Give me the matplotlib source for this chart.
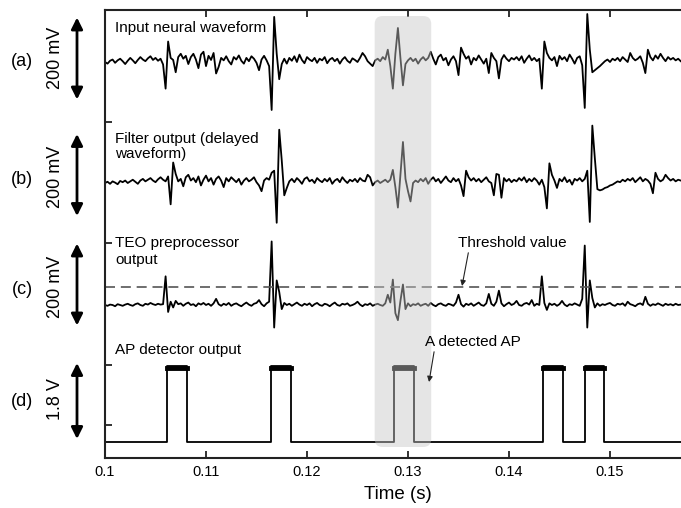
import numpy as np
import matplotlib
matplotlib.use('Agg')
import matplotlib.pyplot as plt
from matplotlib.patches import FancyBboxPatch

plt.rcParams['font.family'] = ['Liberation Sans', 'DejaVu Sans']

# sampling of the recorded traces (s)
t_start = 0.1
dt = 0.00025

# (a) input neural waveform, mV around its baseline
wave_in = [0, -4, 3, 6, -2, 4, 8, 2, -5, 3, 10, 4, -3, 5, 12, 6, 2, 9, 14, 5, 10, 3, 8, -6,
           -65, 50, 10, 5, -25, 12, 20, 8, 15, -5, 12, 20, 6, -15, 18, 25, -10, 15, 5, 22, -28, -12,
           10, 4, 14, 2, -6, 12, 6, 16, 3, -4, 10, 2, 14, 8, -2, -20, 6, 15, 4, -10,
           -117, 110, 20, -42, -5,
           8, -4, 10, 3, 14, 0, 18, 5, -3, 12, 6, 2, 10, -2, 8, 4, 12, -3, 6, 10,
           2, 8, -4, 6, 12, 3, -2, 9, 5, 0, 10, 22, 14, 2, -4, -10, 4, 8, 2, 12, 6,
           30, -10, -65, 20, 83, 10, -57, -5,
           4, 10, 2, 8, -4, 6, 12, 4, 10, 25, 8, -6, 12, 18, 4, 10, -8, 6, 14, 2, -32,
           35, 20, 8, 14, -6, 10, 4, 16, 6, -4, 8, -27, 22, 10, 2, -40, 6, 17, 8, 2,
           10, 6, 12, 4, 14, -2, 8, 16, 4, 10, 2, 8,
           -65, 50,
           22, 10, 4, 12, -10, 15, 6, 12, 2, 18, 8, -4, 10, 14, -8,
           -112, 117, 30, -25,
           -20, -15, -10, -4, 2, 6, 0, 8, 4, 10, 2, 12, 6, 0, 22, 10, 4, 8, 14, -2,
           -27, 30, 12, 4, 16, 8, 20, 10, 2, 12, 6, 10, 4, 8, 2]

# (b) filter output (delayed waveform), mV
wave_filt = [0, 3, -2, 4, 1, -3, 5, 2, 6, 0, 4, 8, 3, -2, 6, 10, 4, 8, 12, 6, 2, 9, 14, 8, 4, 16,
             -52, 50,
             22, 4, 10, -8, 14, 20, 6, 12, 2, 16, -6, 8, 18, 4, 12, -4, 10, 16, 6, -10,
             12, 4, 14, 8, 2, 10, -4, 6, 12, 4, 8, 14, 2, -6, -20, 6, 12, 8, 25, 30,
             -97, 130, 55, -30,
             -12, 4, 10, 2, 12, 6, -2, 10, 14, 4, 8, 0, 12, 6, 2, 10, 4, 12, -2, 6, 10,
             2, 14, 6, 0, 8, 4, 10, 2, 12, 6, 4, 20, 14, -6, 2, 6, 0, 4, 8, 2, 8,
             32, -10, -60, 20, 100, 10, -20, -45, 0,
             6, 2, 10, 4, 12, -2, 8, 14, 4, 10, 0, 8, 16, 6, 2, 12, 4, 10, -6,
             -32,
             30, 14, 6, 12, 4, 10, 2, 8, 14, 4, 0, -30, 22, 20, -36, 12, 4, 10, 2, 8,
             4, 12, 6, 14, 2, 10, 4, 12, 6, -4, 8, -10,
             -62, 48,
             20, 6, -12, 10, 4, 14, 2, 8, -4, 10, 6, 12, 4, 10,
             30, -95, 140, 60, -15,
             -18, -16, -12, -10, -6, -4, 0, 4, 2, 8, 4, 10, 6, 12, 2, 8, 14, 4, 10, 6,
             -2, -25, 25, 10, 4, 8, 20, 12, 6, 10, 4, 8, 6]

# (c) TEO preprocessor output, mV
wave_teo = [0, -2, 1, 0, -3, 2, 0, -2, 1, 3, 0, -2, 2, 4, 0, -2, 3, 1, 5, 2, 0, 3, 1, 2,
            70, -17, 8, -6, 10, 2, 4, -2, 3, 6, 0, 2, -3, 4, 1, 5, 0, 3, -2, 4, 15, 2,
            -2, 3, 0, 5, -2, 2, 4, 0, -3, 2, 6, 1, -2, 3, 5, 12, 2, -3, 4, 8,
            155, -55, 60, 32, -10, 5,
            0, 3, -2, 2, 6, 1, -2, 3, 0, 4, -3, 2, 5, 0, -2, 3, 1, -3, 2, 6,
            0, -2, 3, 1, 4, -2, 0, 3, 8, 1, -3, 2, 0, 4, -2, 1, 3, 0, -2, 4,
            25, 6, 62, -20, -37, 10, 50, -10, 4,
            -3, 2, 0, 4, -2, 1, 3, -2, 5, 0, -3, 2, 4, 0, -2, 3, 1, -2, 6, 25,
            2, -4, 3, 0, 4, -2, 2, 6, 0, -2, 4, 27, 3, -2, 8, 35, 4, -3, 2, 6,
            0, 3, 10, 0, -2, 3, 5, 1, 12, -2, 3, 0,
            70, 5, -12, 4,
            0, 3, -2, 2, 10, 1, -3, 2, 0, 4, 1, -2, 15,
            145, -55, 60, 17, -6,
            4, -2, 2, 0, 3, 5, 0, -2, 3, 1, 4, -2, 8, 2, 0, -3, 2, 4, 0, 20,
            3, -2, 2, 0, 4, 1, -2, 3, 0, 2, -1, 3, 0, 1]
threshold_mv = 44

# (d) AP detector output: pulse edges (s) and logic high level (V)
pulse_on = [0.10614, 0.11644, 0.12861, 0.14337, 0.14752]
pulse_off = [0.10812, 0.11842, 0.13059, 0.14535, 0.14941]
ap_high = 1.8

# highlighted spike
hl_start, hl_end = 0.1267, 0.1323

xticks = [0.1, 0.11, 0.12, 0.13, 0.14, 0.15]
xtick_labels = ['0.1', '0.11', '0.12', '0.13', '0.14', '0.15']
panel_labels = ['(a)', '(b)', '(c)', '(d)']
scale_labels = ['200 mV', '200 mV', '200 mV', '1.8 V']

# vertical layout (axis units are pixels of the stack)
px_per_mv = 0.41
px_per_v = 42.2
base_a, base_b, base_c, base_d = 396, 275, 153, 16

fig = plt.figure(figsize=(6.81, 5.08), dpi=100)
ax = fig.add_axes([105 / 681, 50 / 508, 576 / 681, 448 / 508])

t = t_start + dt * np.arange(len(wave_in))
ax.plot(t, base_a + px_per_mv * np.array(wave_in), color='black', lw=1.3)
ax.plot(t, base_b + px_per_mv * np.array(wave_filt), color='black', lw=1.3)
ax.plot(t, base_c + px_per_mv * np.array(wave_teo), color='black', lw=1.3)
ax.axhline(base_c + px_per_mv * threshold_mv, color='#555555', lw=1.2, dashes=(6, 3.5))

# detector output as a step line
t_end = t_start + 576 / 10100
xs = [t_start]
ys = [0]
for on, off in zip(pulse_on, pulse_off):
    xs += [on, on, off, off]
    ys += [0, ap_high, ap_high, 0]
xs.append(t_end)
ys.append(0)
ax.plot(xs, base_d + px_per_v * np.array(ys), color='black', lw=1.3)
for on, off in zip(pulse_on, pulse_off):
    ax.plot([on, off], [base_d + px_per_v * ap_high - 1.5] * 2, color='black', lw=3.5)

ax.set_xlim(t_start, t_end)
ax.set_ylim(0, 448)

# grey rounded box over the highlighted spike
box = FancyBboxPatch((hl_start, 11), hl_end - hl_start, 431,
                     boxstyle='round,pad=0,rounding_size=%f' % (8 / 10100),
                     mutation_aspect=10100, facecolor=(0.78, 0.78, 0.78),
                     alpha=0.45, edgecolor='none', zorder=5)
ax.add_patch(box)

# in-plot captions
ax.text(0.10099, 430, 'Input neural waveform', fontsize=11, va='center')
ax.text(0.10099, 311.5, 'Filter output (delayed\nwaveform)', fontsize=11, va='center',
        linespacing=1.15)
ax.text(0.10099, 206.5, 'TEO preprocessor\noutput', fontsize=11, va='center',
        linespacing=1.25)
ax.text(0.10099, 108, 'AP detector output', fontsize=11, va='center')

ax.annotate('Threshold value', xy=(0.13535, 172), xytext=(0.13495, 215),
            fontsize=11, va='center',
            arrowprops=dict(arrowstyle='-|>', color='#222222', lw=0.8,
                            mutation_scale=8, shrinkA=0, shrinkB=0,
                            relpos=(0.1, 0)))
ax.annotate('A detected AP', xy=(0.13208, 76), xytext=(0.13168, 116),
            fontsize=11, va='center', zorder=6,
            arrowprops=dict(arrowstyle='-|>', color='#222222', lw=0.8,
                            mutation_scale=8, shrinkA=0, shrinkB=0,
                            relpos=(0.1, 0)))

# panel letters and scale bars on the left
ytrans = ax.get_yaxis_transform()
label_y = [396, 278, 168, 56]
scale_y = [400, 281, 171, 59]
bar_mid = [399.5, 283, 173.5, 57]
bar_half = [100 * px_per_mv] * 3 + [ap_high / 2 * px_per_v]
for i in range(4):
    ax.text(-0.144, label_y[i], panel_labels[i], transform=ytrans, fontsize=13,
            ha='center', va='center')
    ax.text(-0.0868, scale_y[i], scale_labels[i], transform=ytrans, fontsize=13,
            rotation=90, ha='center', va='center')
    ax.annotate('', xy=(-0.0486, bar_mid[i] + bar_half[i]),
                xytext=(-0.0486, bar_mid[i] - bar_half[i]),
                xycoords=ytrans, textcoords=ytrans, annotation_clip=False,
                arrowprops=dict(arrowstyle='<|-|>', color='black', lw=2,
                                mutation_scale=17, shrinkA=0, shrinkB=0))

# axes styling
ax.set_xticks(xticks)
ax.set_xticklabels(xtick_labels)
ax.set_yticks([33, 93, 215, 336])
ax.tick_params(axis='both', direction='in', length=5, width=1.3, labelsize=10.5,
               pad=5, color='#222222')
ax.tick_params(axis='x', top=True)
ax.tick_params(axis='y', labelleft=False)
ax.spines['right'].set_visible(False)
for s in ['left', 'top', 'bottom']:
    ax.spines[s].set_linewidth(1.5)
    ax.spines[s].set_color('#222222')

ax.set_xlabel('Time (s)', fontsize=13.5)
ax.xaxis.set_label_coords(0.508, -0.062)

plt.savefig('out.png', dpi=100)
